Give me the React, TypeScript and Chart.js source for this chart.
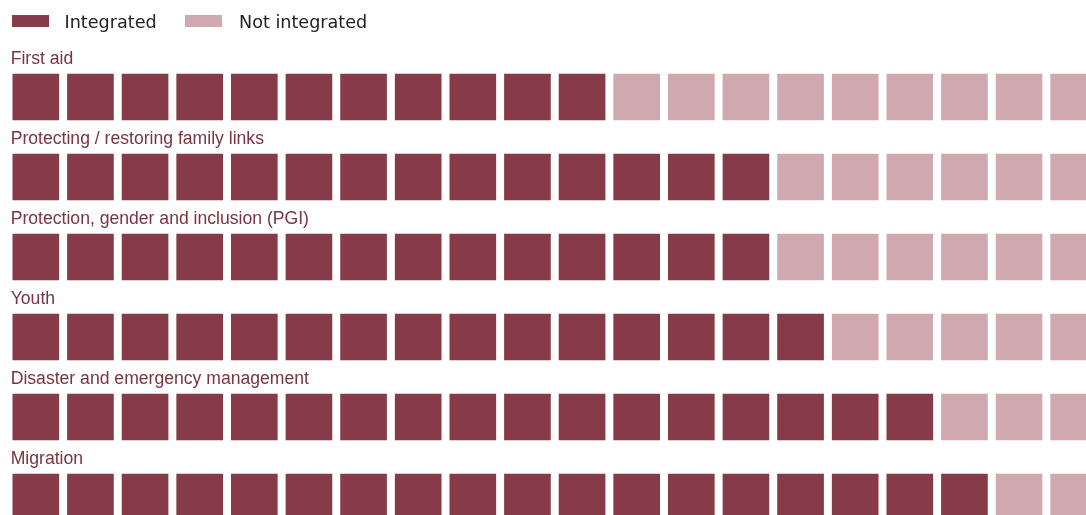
import React, { useEffect, useRef } from "react";
import { Chart, registerables } from "chart.js";

Chart.register(...registerables);

const categories = [
  "First aid",
  "Protecting / restoring family links",
  "Protection, gender and inclusion (PGI)",
  "Youth",
  "Disaster and emergency management",
  "Migration",
];
const integratedCounts = [11, 14, 14, 15, 17, 18];
const squaresPerRow = 20;
const legendLabels = ["Integrated", "Not integrated"];

const DARK = "#873b49";
const LIGHT = "#d0a9b0";
const LABEL_COLOR = "#7a3341";

const columnLabels = Array.from({ length: squaresPerRow }, (_, j) => String(j + 1));

const overlayPlugin = {
  id: "waffleOverlay",
  afterDraw(chart: any) {
    const ctx = chart.ctx;
    const yScale = chart.scales.y;
    const area = chart.chartArea;
    ctx.save();
    // legend
    ctx.textBaseline = "alphabetic";
    ctx.textAlign = "left";
    ctx.font = '17.6px "DejaVu Sans", sans-serif';
    const legendItems = [
      { label: legendLabels[0], color: DARK, boxX: 12, textX: 64.5 },
      { label: legendLabels[1], color: LIGHT, boxX: 185, textX: 239 },
    ];
    legendItems.forEach((it) => {
      ctx.fillStyle = it.color;
      ctx.fillRect(it.boxX, 15, 37, 12);
      ctx.fillStyle = "#222222";
      ctx.fillText(it.label, it.textX, 28);
    });
    // row labels
    ctx.font = '17.6px "Liberation Sans", Arial, sans-serif';
    ctx.fillStyle = LABEL_COLOR;
    categories.forEach((cat, i) => {
      const top = yScale.getPixelForValue(i);
      ctx.fillText(cat, area.left + 2.2, top - 9.5);
    });
    ctx.restore();
  },
};

export default function App() {
  const canvasRef = useRef<HTMLCanvasElement | null>(null);

  useEffect(() => {
    const canvas = canvasRef.current;
    if (!canvas) return;
    const datasets = categories.map((cat, i) => ({
      label: cat,
      data: columnLabels.map(() => [i, i + 0.6]),
      backgroundColor: columnLabels.map((_, j) => (j < integratedCounts[i] ? DARK : LIGHT)),
      borderColor: "rgba(255,255,255,0.35)",
      borderWidth: 1,
      borderSkipped: false,
      grouped: false,
      barThickness: 48,
    }));
    const chart = new Chart(canvas, {
      type: "bar",
      data: { labels: columnLabels, datasets: datasets as any },
      options: {
        animation: false,
        responsive: false,
        maintainAspectRatio: false,
        devicePixelRatio: 1,
        layout: { padding: { left: 8.5, top: 73, right: 0, bottom: 0 } },
        plugins: { legend: { display: false }, tooltip: { enabled: false } },
        scales: {
          x: { type: "category", display: false, offset: true, grid: { display: false } },
          y: { type: "linear", display: false, reverse: true, min: 0, max: 5.6 },
        },
      },
      plugins: [overlayPlugin],
    });
    return () => chart.destroy();
  }, []);

  return (
    <div
      style={{
        position: "fixed",
        left: 0,
        top: 0,
        width: 1086,
        height: 515,
        overflow: "hidden",
        background: "#ffffff",
      }}
    >
      <canvas
        ref={canvasRef}
        width={1101}
        height={521}
        style={{ display: "block", width: 1101, height: 521 }}
      />
    </div>
  );
}
